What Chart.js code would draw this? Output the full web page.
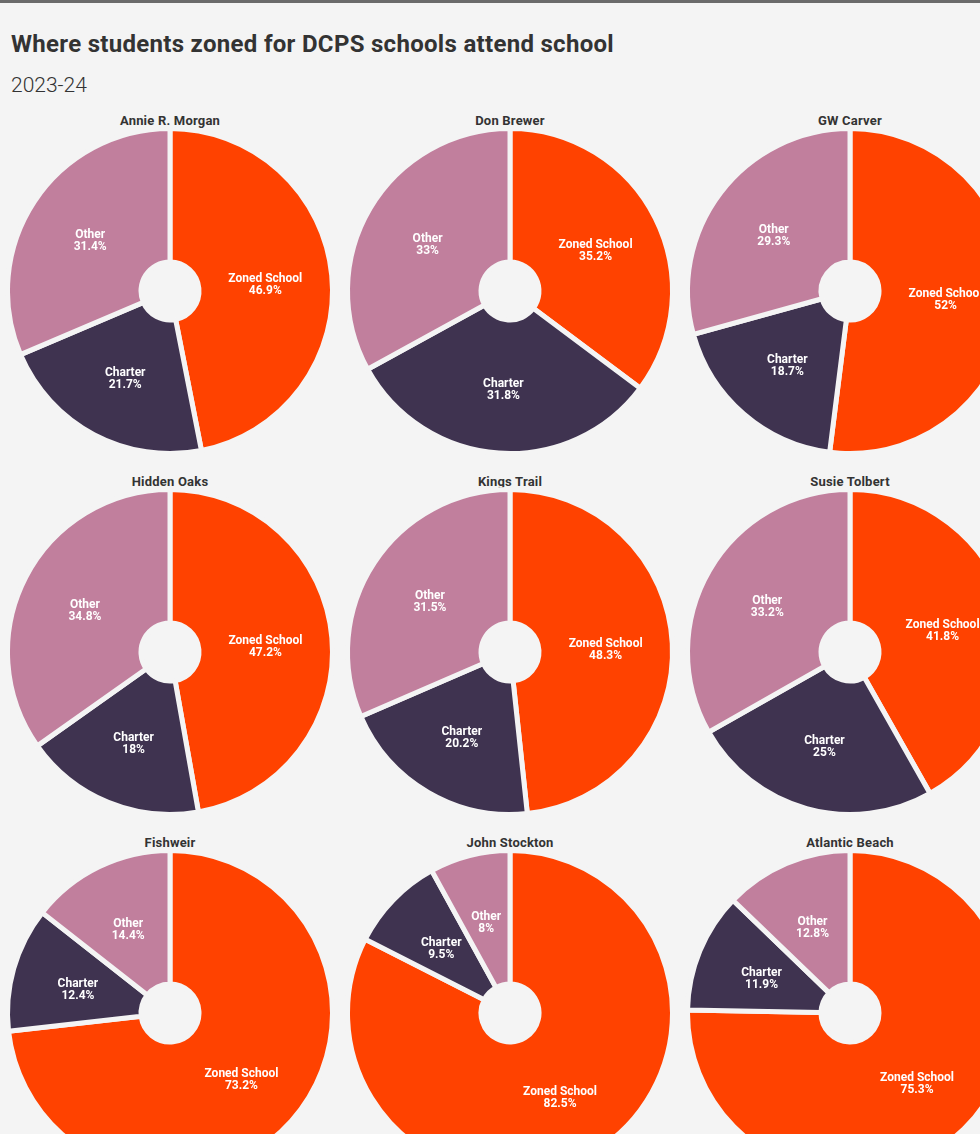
<!DOCTYPE html>
<html>
<head>
<meta charset="utf-8">
<script src="https://cdn.jsdelivr.net/npm/chart.js@4"></script>
<style>
  html, body { margin: 0; padding: 0; }
  body {
    width: 980px; height: 1134px; overflow: hidden; position: relative;
    background: #f4f4f4; font-family: Roboto, "Noto Sans", sans-serif; color: #333;
  }
  .topbar { position: absolute; left: 0; top: 0; width: 980px; height: 3px; background: #6b6b6b; }
  h1 { position: absolute; left: 11px; top: 29px; margin: 0; font-size: 24px; font-weight: 700; line-height: 30px; letter-spacing: 0.3px; }
  .sub { position: absolute; left: 11px; top: 71px; margin: 0; font-size: 21px; font-weight: 300; line-height: 28px; }
  .cell { position: absolute; width: 340px; }
  .cell .name { position: absolute; left: 0; width: 340px; text-align: center; font-size: 13px; font-weight: 700; line-height: 16px; letter-spacing: 0.2px; }
  .cell canvas { position: absolute; left: 0; }
</style>
</head>
<body>
<div class="topbar"></div>
<h1>Where students zoned for DCPS schools attend school</h1>
<div class="sub">2023-24</div>
<div id="grid"></div>
<script>
const schools = ['Annie R. Morgan', 'Don Brewer', 'GW Carver', 'Hidden Oaks', 'Kings Trail', 'Susie Tolbert', 'Fishweir', 'John Stockton', 'Atlantic Beach'];
const categories = ['Zoned School', 'Charter', 'Other'];
const zoned = [46.9, 35.2, 52, 47.2, 48.3, 41.8, 73.2, 82.5, 75.3];
const charter = [21.7, 31.8, 18.7, 18, 20.2, 25, 12.4, 9.5, 11.9];
const other = [31.4, 33, 29.3, 34.8, 31.5, 33.2, 14.4, 8, 12.8];

const sliceColors = ['#ff4200', '#3f3350', '#c17f9d'];
const bg = '#f4f4f4';

// white two-line labels in the middle of each slice
const sliceLabels = {
  id: 'sliceLabels',
  afterDatasetsDraw(chart) {
    const ctx = chart.ctx;
    const meta = chart.getDatasetMeta(0);
    const values = chart.data.datasets[0].data;
    ctx.save();
    ctx.fillStyle = '#ffffff';
    ctx.textAlign = 'center';
    ctx.textBaseline = 'middle';
    ctx.font = '700 12px Roboto, sans-serif';
    meta.data.forEach((arc, i) => {
      const p = arc.tooltipPosition();
      ctx.fillText(chart.data.labels[i], p.x, p.y - 3);
      ctx.fillText(values[i] + '%', p.x, p.y + 9);
    });
    ctx.restore();
  }
};

const grid = document.getElementById('grid');
schools.forEach((school, i) => {
  const col = i % 3;
  const row = Math.floor(i / 3);
  const cx = 170 + col * 340;
  const cy = 291 + row * 361;

  const cell = document.createElement('div');
  cell.className = 'cell';
  cell.style.left = (cx - 170) + 'px';
  cell.style.top = (cy - 178) + 'px';

  const name = document.createElement('div');
  name.className = 'name';
  name.style.top = '0px';
  name.textContent = school;
  cell.appendChild(name);

  const canvas = document.createElement('canvas');
  canvas.width = 340;
  canvas.height = 330;
  canvas.style.top = '13px';
  cell.appendChild(canvas);
  grid.appendChild(cell);

  new Chart(canvas, {
    type: 'doughnut',
    data: {
      labels: categories,
      datasets: [{
        data: [zoned[i], charter[i], other[i]],
        backgroundColor: sliceColors,
        borderColor: bg,
        borderWidth: 5
      }]
    },
    options: {
      responsive: false,
      animation: false,
      cutout: 29,
      layout: { padding: 0 },
      plugins: {
        legend: { display: false },
        tooltip: { enabled: false }
      }
    },
    plugins: [sliceLabels]
  });
});
</script>
</body>
</html>
